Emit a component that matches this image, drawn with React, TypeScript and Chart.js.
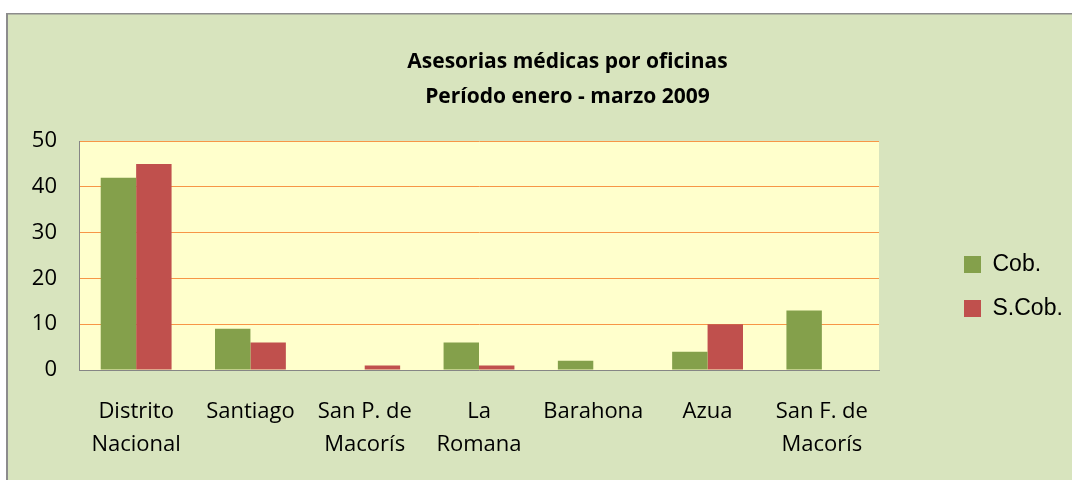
import React, { useEffect, useRef } from 'react';
import { Chart, registerables } from 'chart.js';

Chart.register(...registerables);

const categories: (string | string[])[] = [
  ['Distrito', 'Nacional'],
  'Santiago',
  ['San P. de', 'Macorís'],
  ['La', 'Romana'],
  'Barahona',
  'Azua',
  ['San F. de', 'Macorís'],
];
const seriesNames = ['Cob.', 'S.Cob.'];
const cobValues = [42, 9, 0, 6, 2, 4, 13];
const sCobValues = [45, 6, 1, 1, 0, 10, 0];
const yMin = 0;
const yMax = 50;
const yStep = 10;
const titleLines = ['Asesorias médicas por oficinas', 'Período enero - marzo 2009'];

const TICK_FAMILY = "'Open Sans', sans-serif";
const TICK_SIZE = 22;

const bgPlugin = {
  id: 'bgFrame',
  beforeDraw(chart: any) {
    const { ctx, chartArea, width, height } = chart;
    ctx.save();
    ctx.fillStyle = '#FFFFFF';
    ctx.fillRect(0, 0, width, height);
    ctx.fillStyle = '#D8E4BE';
    ctx.fillRect(6, 13, width, height);
    ctx.fillStyle = '#8C8C8C';
    ctx.fillRect(6, 13, 2, height);
    ctx.fillRect(6, 13, width, 1.5);
    ctx.fillStyle = '#FFFFCC';
    ctx.fillRect(chartArea.left, chartArea.top, chartArea.right - chartArea.left, chartArea.bottom - chartArea.top);
    ctx.restore();
  },
};

export default function App() {
  const ref = useRef<HTMLCanvasElement | null>(null);

  useEffect(() => {
    if (!ref.current) return;
    const tickFont = { family: TICK_FAMILY, size: TICK_SIZE, lineHeight: 33 / TICK_SIZE };

    // widest y tick label, to right-align mirrored labels at x = 57
    const mctx = document.createElement('canvas').getContext('2d')!;
    mctx.font = `${TICK_SIZE}px ${TICK_FAMILY}`;
    let widest = 0;
    for (let v = yMin; v <= yMax; v += yStep) {
      widest = Math.max(widest, mctx.measureText(String(v)).width);
    }
    const leftPad = 63;
    const yAxisWidth = 16; // chart area left = 79
    const yLabelPadding = 57 - (leftPad + yAxisWidth) - widest;

    const chart = new Chart(ref.current, {
      type: 'bar',
      data: {
        labels: categories,
        datasets: [
          {
            label: seriesNames[0],
            data: cobValues,
            backgroundColor: '#84A04B',
            borderWidth: 0,
          },
          {
            label: seriesNames[1],
            data: sCobValues,
            backgroundColor: '#C0504D',
            borderWidth: 0,
          },
        ],
      },
      plugins: [bgPlugin],
      options: {
        responsive: false,
        maintainAspectRatio: false,
        animation: false,
        devicePixelRatio: 1,
        layout: { padding: { left: leftPad, right: 0, top: 0, bottom: 0 } },
        datasets: {
          bar: { categoryPercentage: 0.62, barPercentage: 1.0 },
        },
        scales: {
          x: {
            type: 'category',
            grid: { display: false, drawTicks: false },
            border: { display: true, color: '#868686', width: 1 },
            ticks: {
              color: '#000000',
              font: tickFont,
              padding: 25.5,
              maxRotation: 0,
              minRotation: 0,
              autoSkip: false,
            },
            afterFit: (s: any) => {
              s.height = 110;
            },
          },
          y: {
            type: 'linear',
            position: 'left',
            min: yMin,
            max: yMax,
            grid: {
              drawTicks: false,
              color: (c: any) => (c.tick && c.tick.value === 0 ? 'rgba(0,0,0,0)' : '#F79646'),
              lineWidth: 1,
            },
            border: { display: true, color: '#868686', width: 1 },
            ticks: {
              stepSize: yStep,
              color: '#000000',
              font: tickFont,
              mirror: true,
              crossAlign: 'far',
              padding: yLabelPadding,
            },
            afterFit: (s: any) => {
              s.width = yAxisWidth;
            },
          },
          ySpacer: {
            type: 'linear',
            position: 'right',
            display: true,
            grid: { display: false, drawTicks: false },
            border: { display: false },
            ticks: { display: false },
            afterFit: (s: any) => {
              s.width = 64;
            },
          },
        },
        plugins: {
          title: {
            display: true,
            text: titleLines,
            color: '#000000',
            font: { family: "'Open Sans', sans-serif", size: 21, weight: 'bold', lineHeight: 35 / 21 },
            padding: { top: 44.5, bottom: 26.5 },
          },
          legend: {
            display: true,
            position: 'right',
            align: 'center',
            maxWidth: 129,
            title: {
              display: true,
              text: ' ',
              font: { size: 10, lineHeight: 1 },
              padding: { top: 83, bottom: 0 },
            },
            labels: {
              boxWidth: 17,
              boxHeight: 17,
              padding: 21,
              color: '#000000',
              font: { family: "'Liberation Sans', Arial, sans-serif", size: 23 },
            },
          },
          tooltip: { enabled: false },
        },
      },
    } as any);
    return () => chart.destroy();
  }, []);

  return (
    <div style={{ position: 'fixed', left: 0, top: 0, width: 1072, height: 480 }}>
      <canvas ref={ref} width={1072} height={480} style={{ display: 'block' }} />
    </div>
  );
}
